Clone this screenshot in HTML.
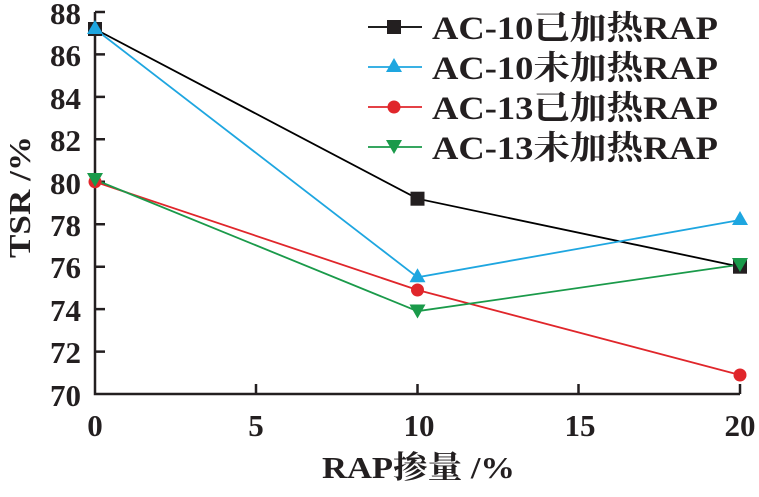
<!DOCTYPE html>
<html><head><meta charset="utf-8"><style>
body{margin:0;background:#fff}
text{font-family:"Liberation Serif","Noto Serif CJK SC",serif;fill:#231f20;font-weight:bold}
</style></head><body>
<svg width="759" height="492" xmlns="http://www.w3.org/2000/svg">
<g stroke="#231f20" stroke-width="2.5" fill="none">
<path d="M95,12 V394 H740"/>
<path d="M95,12h10M95,54.4h10M95,96.9h10M95,139.3h10M95,181.8h10M95,224.2h10M95,266.7h10M95,309.1h10M95,351.6h10"/>
<path d="M256,394v-10M417.5,394v-10M578.5,394v-10M740,394v-10"/>
</g>
<g font-size="31" text-anchor="end">
<text x="81" y="24">88</text><text x="81" y="66">86</text><text x="81" y="109">84</text>
<text x="81" y="151">82</text><text x="81" y="194">80</text><text x="81" y="236">78</text>
<text x="81" y="278">76</text><text x="81" y="321">74</text><text x="81" y="363">72</text>
<text x="81" y="406">70</text>
</g>
<g font-size="31" text-anchor="middle">
<text x="95" y="436">0</text><text x="256" y="436">5</text><text x="419" y="436">10</text>
<text x="580" y="436">15</text><text x="740" y="436">20</text>
</g>
<text x="322" y="478" font-size="31" textLength="193" lengthAdjust="spacingAndGlyphs">RAP掺量 /%</text>
<text transform="translate(30,258) rotate(-90)" font-size="31" textLength="122" lengthAdjust="spacingAndGlyphs">TSR /%</text>
<g fill="none" stroke-width="1.8">
<polyline stroke="#000" points="95,29 417.5,198.7 740,266.7"/>
<polyline stroke="#1ea6e0" points="95,29 417.5,277.3 740,220"/>
<polyline stroke="#e0262b" points="95,181.8 417.5,290 740,375"/>
<polyline stroke="#1a9a4a" points="95,179.7 417.5,311.2 740,264.6"/>
</g>
<g>
<rect x="88" y="22" width="14" height="14" fill="#231f20"/>
<rect x="410.5" y="191.7" width="14" height="14" fill="#231f20"/>
<rect x="733" y="259.7" width="14" height="14" fill="#231f20"/>
<path d="M95,20l8,14h-16zM417.5,268.3l8,14h-16zM740,211l8,14h-16z" fill="#1ea6e0"/>
<circle cx="95" cy="181.8" r="6.5" fill="#e0262b"/><circle cx="417.5" cy="290" r="6.5" fill="#e0262b"/><circle cx="740" cy="375" r="6.5" fill="#e0262b"/>
<path d="M95,187l8,-14h-16zM417.5,318.5l8,-14h-16zM740,272l8,-14h-16z" fill="#1a9a4a"/>
</g>
<g stroke-width="1.8">
<line x1="368" y1="27" x2="422" y2="27" stroke="#000"/><rect x="387" y="20" width="14" height="14" fill="#231f20"/>
<line x1="368" y1="67" x2="422" y2="67" stroke="#1ea6e0"/><path d="M394,58l8,14h-16z" fill="#1ea6e0"/>
<line x1="368" y1="107" x2="422" y2="107" stroke="#e0262b"/><circle cx="394" cy="107" r="6.5" fill="#e0262b"/>
<line x1="368" y1="147" x2="422" y2="147" stroke="#1a9a4a"/><path d="M394,154l8,-14h-16z" fill="#1a9a4a"/>
</g>
<g font-size="33">
<text x="432" y="39" textLength="286" lengthAdjust="spacingAndGlyphs">AC-10已加热RAP</text>
<text x="432" y="79" textLength="286" lengthAdjust="spacingAndGlyphs">AC-10未加热RAP</text>
<text x="432" y="119" textLength="286" lengthAdjust="spacingAndGlyphs">AC-13已加热RAP</text>
<text x="432" y="159" textLength="286" lengthAdjust="spacingAndGlyphs">AC-13未加热RAP</text>
</g>
</svg>
</body></html>
